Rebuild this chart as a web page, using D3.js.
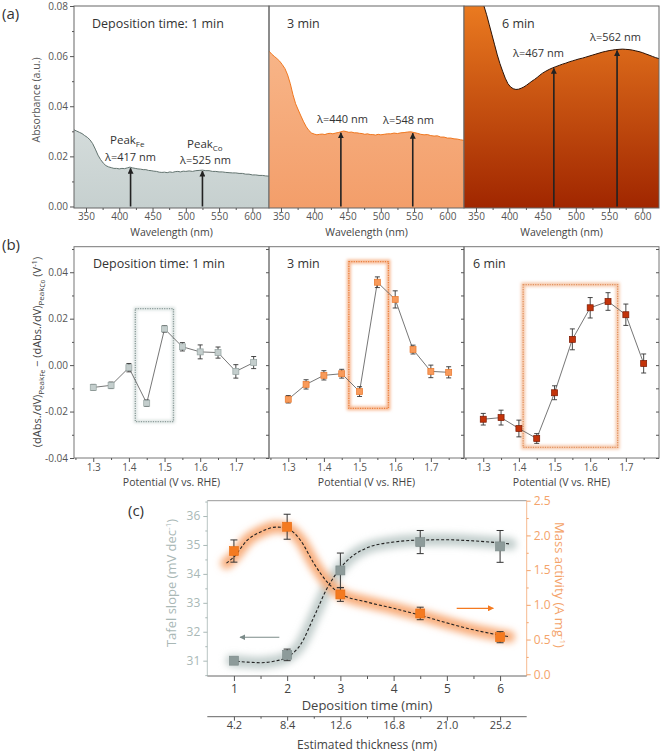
<!DOCTYPE html>
<html><head><meta charset="utf-8">
<script src="https://cdn.jsdelivr.net/npm/d3@7"></script>
<style>body{margin:0;background:#fff}text{font-family:"Open Sans",sans-serif}</style>
</head><body><svg id="c" width="660" height="754"></svg>
<script>
// ---------- DATA ----------
const spec1 = [[332,.0306],[336,.0301],[340,.0296],[344,.0291],[348,.0283],[352,.0276],[356,.0266],[360,.0251],[364,.0229],[368,.0205],[372,.0187],[376,.0173],[380,.0163],[384,.0158],[388,.0155],[392,.0152],[396,.0152],[400,.0150],[404,.0152],[408,.0151],[412,.0154],[416,.0157],[420,.0154],[424,.0152],[428,.0150],[432,.0149],[436,.0147],[440,.0147],[444,.0144],[448,.0143],[452,.0141],[456,.0140],[460,.0137],[464,.0136],[468,.0137],[472,.0135],[476,.0138],[480,.0136],[484,.0139],[488,.0140],[492,.0138],[496,.0141],[500,.0140],[505,.0142],[510,.0140],[515,.0143],[520,.0144],[525,.0145],[530,.0143],[535,.0143],[540,.0140],[545,.0140],[550,.0138],[555,.0138],[560,.0136],[565,.0135],[570,.0134],[575,.0134],[580,.0132],[585,.0132],[590,.0129],[595,.0129],[600,.0126],[605,.0126],[610,.0124],[615,.0124],[620,.0122],[625,.0121]];
const spec3 = [[332,.0620],[336,.0608],[340,.0599],[344,.0590],[348,.0580],[352,.0566],[356,.0550],[360,.0525],[364,.0490],[368,.0446],[372,.0410],[376,.0385],[380,.0361],[384,.0338],[388,.0318],[392,.0303],[396,.0293],[400,.0289],[404,.0286],[408,.0288],[412,.0289],[416,.0287],[420,.0291],[424,.0292],[428,.0290],[432,.0293],[436,.0295],[440,.0298],[444,.0301],[448,.0299],[452,.0296],[456,.0297],[460,.0294],[464,.0294],[468,.0292],[472,.0291],[476,.0288],[480,.0290],[484,.0287],[488,.0287],[492,.0285],[496,.0288],[500,.0286],[505,.0288],[510,.0290],[515,.0290],[520,.0293],[525,.0291],[530,.0294],[535,.0295],[540,.0297],[545,.0298],[550,.0295],[555,.0292],[560,.0288],[565,.0286],[570,.0287],[575,.0283],[580,.0281],[585,.0282],[590,.0277],[595,.0277],[600,.0273],[605,.0273],[610,.0270],[615,.0269],[620,.0266],[625,.0264]];
const spec6 = [[332,.0990],[340,.0950],[348,.0905],[356,.0850],[362,.0800],[366,.0765],[370,.0725],[374,.0685],[378,.0645],[382,.0605],[386,.0570],[390,.0540],[394,.0512],[398,.0490],[402,.0477],[406,.0470],[410,.0467],[414,.0468],[418,.0472],[422,.0477],[426,.0484],[430,.0492],[434,.0500],[438,.0507],[442,.0515],[446,.0524],[450,.0532],[455,.0540],[460,.0547],[465,.0553],[470,.0558],[475,.0563],[480,.0568],[485,.0572],[490,.0577],[495,.0581],[500,.0585],[505,.0589],[510,.0592],[515,.0596],[520,.0600],[525,.0604],[530,.0608],[535,.0612],[540,.0616],[545,.0619],[550,.0622],[555,.0624],[560,.0626],[565,.0627],[570,.0628],[575,.0627],[580,.0626],[585,.0624],[590,.0621],[595,.0618],[600,.0614],[605,.0609],[610,.0604],[615,.0599],[620,.0594],[625,.0590]];
const peaks1 = [417, 525];
const peaks3 = [440, 548];
const peaks6 = [467, 562];
const wlTicks = [350,400,450,500,550,600];
const absTicks = [0,0.02,0.04,0.06,0.08];

const potentials = [1.30,1.35,1.40,1.45,1.50,1.55,1.60,1.65,1.70,1.75];
const dv1 = [-0.0096,-0.0087,-0.0011,-0.0164,0.0156,0.0079,0.0057,0.0054,-0.0027,0.0011];
const dv1Err = [0.0013,0.0014,0.0018,0.0014,0.0014,0.0018,0.0030,0.0024,0.0029,0.0026];
const dv3 = [-0.0147,-0.0083,-0.0044,-0.0037,-0.0114,0.0357,0.0283,0.0067,-0.0027,-0.0031];
const dv3Err = [0.0016,0.0020,0.0020,0.0019,0.0021,0.0023,0.0037,0.0019,0.0027,0.0024];
const dv6 = [-0.0233,-0.0226,-0.0273,-0.0316,-0.0119,0.0111,0.0247,0.0274,0.0217,0.0007];
const dv6Err = [0.0025,0.0032,0.0036,0.0021,0.0030,0.0045,0.0044,0.0038,0.0046,0.0041];
const boxes = [[1.418,1.525,-0.0243,0.0243],[1.470,1.581,-0.0186,0.0446],[1.412,1.677,-0.0354,0.0347]];
const potTicks = [1.3,1.4,1.5,1.6,1.7];
const dvTicks = [-0.04,-0.02,0,0.02,0.04];

const times = [1,2,3,4.5,6];
const tafel = [31.0,31.2,34.12,35.1,34.95];
const tafelErr = [0.05,0.2,0.6,0.4,0.55];
const mass = [1.775,2.125,1.15,0.876,0.534];
const massErr = [0.16,0.18,0.1,0.09,0.08];
const tafelFit = [[0.96,31.0],[1.25,30.95],[1.5,30.93],[1.75,30.98],[2.0,31.12],[2.25,31.55],[2.5,32.5],[2.75,33.5],[3.0,34.2],[3.25,34.65],[3.5,34.9],[4.0,35.1],[4.5,35.17],[5.0,35.18],[5.5,35.14],[6.0,35.07],[6.2,35.03]];
const massFit = [[0.86,1.6],[1.0,1.69],[1.25,1.93],[1.5,2.05],[1.8,2.12],[2.0,2.1],[2.25,1.93],[2.5,1.6],[2.75,1.33],[3.0,1.16],[3.5,1.04],[4.0,0.95],[4.5,0.85],[5.0,0.74],[5.5,0.64],[6.17,0.54]];
const timeTicks = [1,2,3,4,5,6];
const tafelTicks = [31,32,33,34,35,36];
const massTicks = [0,0.5,1.0,1.5,2.0,2.5];
const thickTicks = [4.2,8.4,12.6,16.8,21.0,25.2];

// ---------- SETUP ----------
const svg = d3.select("#c");
const defs = svg.append("defs");
const blur = (id, s) => defs.append("filter").attr("id", id).attr("x","-50%").attr("y","-50%").attr("width","200%").attr("height","200%")
  .append("feGaussianBlur").attr("stdDeviation", s);
blur("glow", 3.5); blur("glowS", 1.5);
const arrowM = (id, col) => defs.append("marker").attr("id", id).attr("viewBox","0 0 10 10").attr("refX",9).attr("refY",5)
  .attr("markerWidth",6).attr("markerHeight",6).attr("orient","auto-start-reverse").attr("markerUnits","userSpaceOnUse")
  .append("path").attr("d","M0,0L10,5L0,10z").attr("fill",col);
arrowM("ah", "#222"); arrowM("ahG", "#7b8b89"); arrowM("ahO", "#f47a20");

const subX = [[74,269],[269,464],[464,659]];
const tickCol = "#555", labCol = "#555";

function styleAxis(g){ g.select(".domain").remove(); g.selectAll("line").attr("stroke", tickCol);
  g.selectAll("text").attr("fill", labCol).attr("font-size", 10); }

// ---------- PANEL A ----------
const aTop = 6, aBot = 208;
const yA = d3.scaleLinear().domain([-0.0006,0.08]).range([aBot,aTop]);
const specs = [spec1, spec3, spec6];
const peaks = [peaks1, peaks3, peaks6];
const gradCols = [["#e9eded","#c6d0cf"],["#f9bb90","#f39e6a"],["#ea7a20","#a02600"]];
const lineCols = ["#62736f","#f07820","#2a1206"];
specs.forEach((sp, i) => {
  const [x0,x1] = subX[i];
  const x = d3.scaleLinear().domain([332,625]).range([x0,x1]);
  const cid = "clipA"+i;
  defs.append("clipPath").attr("id",cid).append("rect").attr("x",x0).attr("y",aTop).attr("width",x1-x0).attr("height",aBot-aTop);
  const gr = defs.append("linearGradient").attr("id","gA"+i).attr("gradientUnits","userSpaceOnUse").attr("x1",0).attr("x2",0).attr("y1",aTop).attr("y2",aBot);
  gr.append("stop").attr("offset",0).attr("stop-color",gradCols[i][0]);
  gr.append("stop").attr("offset",1).attr("stop-color",gradCols[i][1]);
  const g = svg.append("g").attr("clip-path",`url(#${cid})`);
  g.append("path").datum(sp).attr("fill",`url(#gA${i})`)
    .attr("d", d3.area().x(d=>x(d[0])).y0(aBot).y1(d=>yA(d[1])));
  g.append("path").datum(sp).attr("fill","none").attr("stroke",lineCols[i]).attr("stroke-width",1)
    .attr("d", d3.line().x(d=>x(d[0])).y(d=>yA(d[1])));
  const interp = w => { for (let k=1;k<sp.length;k++){ if (sp[k][0]>=w){ const a=sp[k-1],b=sp[k]; return a[1]+(b[1]-a[1])*(w-a[0])/(b[0]-a[0]); } } return sp[sp.length-1][1]; };
  peaks[i].forEach(p => {
    svg.append("line").attr("x1",x(p)).attr("x2",x(p)).attr("y1",yA(0)).attr("y2",yA(interp(p))+1)
      .attr("stroke","#222").attr("stroke-width",1.6).attr("marker-end","url(#ah)");
  });
  svg.append("rect").attr("x",x0).attr("y",aTop).attr("width",x1-x0).attr("height",aBot-aTop).attr("fill","none").attr("stroke","#666").attr("stroke-width",1);
  const ax = svg.append("g").attr("transform",`translate(0,${aBot})`).call(d3.axisBottom(x).tickValues(wlTicks).tickFormat(d=>d).tickSize(4).tickPadding(1));
  styleAxis(ax);
  const axm = svg.append("g").attr("transform",`translate(0,${aBot})`).call(d3.axisBottom(x).tickValues([375,425,475,525,575]).tickSize(2).tickFormat(""));
  styleAxis(axm);
  svg.append("text").attr("x",(x0+x1)/2).attr("y",236).attr("text-anchor","middle").attr("font-size",10.5).attr("fill","#444").text("Wavelength (nm)");
});
{
  const ay = svg.append("g").attr("transform","translate(74,0)").call(d3.axisLeft(yA).tickValues(absTicks).tickFormat(d=>d.toFixed(2)).tickSize(4).tickPadding(2));
  styleAxis(ay);
  const aym = svg.append("g").attr("transform","translate(74,0)").call(d3.axisLeft(yA).tickValues([0.01,0.03,0.05,0.07]).tickFormat("").tickSize(2));
  styleAxis(aym);
  svg.append("text").attr("transform","translate(40,100) rotate(-90)").attr("text-anchor","middle").attr("font-size",10.5).attr("fill","#555").text("Absorbance (a.u.)");
  svg.append("text").attr("x",2).attr("y",19).attr("font-size",15).attr("fill","#333").text("(a)");
  const T = (x,y,s,fs) => svg.append("text").attr("x",x).attr("y",y).attr("font-size",fs||11).attr("fill","#333").text(s);
  T(92,28,"Deposition time: 1 min",12.5);
  T(287,28,"3 min",12.5);
  T(502,28,"6 min",12.5);
  const pk = (x,y,sub) => { const t = svg.append("text").attr("x",x).attr("y",y).attr("font-size",11.5).attr("fill","#333");
    t.append("tspan").text("Peak"); t.append("tspan").attr("dy",3).attr("font-size",8).text(sub); };
  pk(110,144,"Fe"); pk(187,148,"Co");
  T(105,161,"λ=417 nm"); T(180,164,"λ=525 nm");
  T(317,123,"λ=440 nm"); T(383,124,"λ=548 nm");
  T(513,57,"λ=467 nm"); T(590,41,"λ=562 nm");
}

// ---------- PANEL B ----------
const bTop = 246.7, bBot = 458;
const yB = d3.scaleLinear().domain([-0.04,0.051]).range([bBot,bTop]);
const dvs = [[dv1,dv1Err],[dv3,dv3Err],[dv6,dv6Err]];
const mFill = ["#c4cecd","#f89a5a","#c3330a"], mStroke = ["#95a3a1","#e8782e","#7a1800"];
const boxStroke = ["#8d9d9b","#e9803e","#e29462"], boxGlow = ["#d6dfdd","#f7b68e","#f5c4a4"];
const titlesB = ["Deposition time: 1 min","3 min","6 min"], titleBX = [93,287,473];
dvs.forEach(([vals,errs], i) => {
  const [x0,x1] = subX[i];
  const x = d3.scaleLinear().domain([1.246,1.793]).range([x0,x1]);
  svg.append("rect").attr("x",x0).attr("y",bTop).attr("width",x1-x0).attr("height",bBot-bTop).attr("fill","none").attr("stroke","#777").attr("stroke-width",1);
  const bx = boxes[i];
  svg.append("rect").attr("x",x(bx[0])).attr("y",yB(bx[3])).attr("width",x(bx[1])-x(bx[0])).attr("height",yB(bx[2])-yB(bx[3]))
    .attr("fill","none").attr("stroke",boxGlow[i]).attr("stroke-width",i===0?3:4).attr("filter","url(#glowS)");
  svg.append("rect").attr("x",x(bx[0])).attr("y",yB(bx[3])).attr("width",x(bx[1])-x(bx[0])).attr("height",yB(bx[2])-yB(bx[3]))
    .attr("fill","none").attr("stroke",boxStroke[i]).attr("stroke-width",1.3).attr("stroke-dasharray","1.2,1.2");
  const pts = potentials.map((p,k)=>[p,vals[k],errs[k]]);
  svg.append("path").datum(pts).attr("fill","none").attr("stroke","#666").attr("stroke-width",0.9)
    .attr("d", d3.line().x(d=>x(d[0])).y(d=>yB(d[1])));
  const eb = svg.append("g").attr("stroke","#333").attr("stroke-width",0.9);
  pts.forEach(d => {
    const cx = x(d[0]);
    eb.append("line").attr("x1",cx).attr("x2",cx).attr("y1",yB(d[1]-d[2])).attr("y2",yB(d[1]+d[2]));
    eb.append("line").attr("x1",cx-2.5).attr("x2",cx+2.5).attr("y1",yB(d[1]-d[2])).attr("y2",yB(d[1]-d[2]));
    eb.append("line").attr("x1",cx-2.5).attr("x2",cx+2.5).attr("y1",yB(d[1]+d[2])).attr("y2",yB(d[1]+d[2]));
  });
  svg.append("g").selectAll("rect").data(pts).join("rect")
    .attr("x",d=>x(d[0])-3).attr("y",d=>yB(d[1])-3).attr("width",6).attr("height",6)
    .attr("fill",mFill[i]).attr("stroke",mStroke[i]).attr("stroke-width",0.7);
  const ax = svg.append("g").attr("transform",`translate(0,${bBot})`).call(d3.axisBottom(x).tickValues(potTicks).tickFormat(d=>d.toFixed(1)).tickSize(4).tickPadding(2));
  styleAxis(ax);
  const axm = svg.append("g").attr("transform",`translate(0,${bBot})`).call(d3.axisBottom(x).tickValues([1.25,1.35,1.45,1.55,1.65,1.75]).tickFormat("").tickSize(2));
  styleAxis(axm);
  svg.append("text").attr("x",(x0+x1)/2).attr("y",486).attr("text-anchor","middle").attr("font-size",10.5).attr("fill","#444").text("Potential (V vs. RHE)");
  const ay = svg.append("g").attr("transform",`translate(${x0},0)`).call(d3.axisLeft(yB).tickValues(dvTicks).tickFormat(i===0?(d=>d.toFixed(2)):"").tickSize(i===0?4:3).tickPadding(2));
  styleAxis(ay);
  const aym = svg.append("g").attr("transform",`translate(${x0},0)`).call(d3.axisLeft(yB).tickValues([-0.03,-0.01,0.01,0.03,0.05]).tickFormat("").tickSize(i===0?2:3));
  styleAxis(aym);
  svg.append("text").attr("x",titleBX[i]).attr("y",268).attr("font-size",12.5).attr("fill","#333").text(titlesB[i]);
});
{
  const ayr = svg.append("g").attr("transform",`translate(659,0)`).call(d3.axisLeft(yB).tickValues([-0.04,-0.03,-0.02,-0.01,0,0.01,0.02,0.03,0.04,0.05]).tickFormat("").tickSize(3));
  styleAxis(ayr);
  svg.append("text").attr("x",2).attr("y",250).attr("font-size",15).attr("fill","#333").text("(b)");
  const t = svg.append("text").attr("transform","translate(41,352) rotate(-90)").attr("text-anchor","middle").attr("font-size",11).attr("fill","#444");
  t.append("tspan").text("(dAbs./dV)");
  t.append("tspan").attr("dy",2.5).attr("font-size",8).text("Peak");
  t.append("tspan").attr("dy",1.5).attr("font-size",6.5).text("Fe");
  t.append("tspan").attr("dy",-4).text(" − (dAbs./dV)");
  t.append("tspan").attr("dy",2.5).attr("font-size",8).text("Peak");
  t.append("tspan").attr("dy",1.5).attr("font-size",6.5).text("Co");
  t.append("tspan").attr("dy",-4).text(" (V");
  t.append("tspan").attr("dy",-4).attr("font-size",7.5).text("-1");
  t.append("tspan").attr("dy",4).text(")");
}

// ---------- PANEL C ----------
const cL = 207.3, cR = 526.7, cT = 500.7, cB = 676;
const xC = d3.scaleLinear().domain([0.5,6.5]).range([cL,cR]);
const yL = d3.scaleLinear().domain([30.47,36.53]).range([cB,cT]);
const yR = d3.scaleLinear().domain([-0.025,2.5]).range([cB,cT]);
const xT = d3.scaleLinear().domain([0.5*4.2,6.5*4.2]).range([cL,cR]);
const gCol = "#a9b8b6", oCol = "#f4a36a";
svg.append("line").attr("x1",cL).attr("x2",cR).attr("y1",cT).attr("y2",cT).attr("stroke","#999");
svg.append("line").attr("x1",cL).attr("x2",cL).attr("y1",cT).attr("y2",cB).attr("stroke","#b9c5c3");
svg.append("line").attr("x1",cR).attr("x2",cR).attr("y1",cT).attr("y2",cB).attr("stroke","#f6bb90");
svg.append("line").attr("x1",cL).attr("x2",cR).attr("y1",cB).attr("y2",cB).attr("stroke","#666");
{
  const ax = svg.append("g").attr("transform",`translate(0,${cB})`).call(d3.axisBottom(xC).tickValues(timeTicks).tickFormat(d=>d).tickSize(5).tickPadding(3));
  styleAxis(ax); ax.selectAll("text").attr("font-size",12).attr("fill","#444");
  const axm = svg.append("g").attr("transform",`translate(0,${cB})`).call(d3.axisBottom(xC).tickValues([1.5,2.5,3.5,4.5,5.5]).tickFormat("").tickSize(3));
  styleAxis(axm);
  svg.append("text").attr("x",367).attr("y",710).attr("text-anchor","middle").attr("font-size",13).attr("fill","#444").text("Deposition time (min)");
  svg.append("line").attr("x1",cL).attr("x2",cR).attr("y1",716.7).attr("y2",716.7).attr("stroke","#666");
  const at = svg.append("g").attr("transform",`translate(0,716.7)`).call(d3.axisBottom(xT).tickValues(thickTicks).tickFormat(d=>d.toFixed(1)).tickSize(4).tickPadding(1));
  styleAxis(at); at.selectAll("text").attr("font-size",11).attr("fill","#444");
  const atm = svg.append("g").attr("transform",`translate(0,716.7)`).call(d3.axisBottom(xT).tickValues([6.3,10.5,14.7,18.9,23.1]).tickFormat("").tickSize(2));
  styleAxis(atm);
  svg.append("text").attr("x",367).attr("y",749).attr("text-anchor","middle").attr("font-size",12).attr("fill","#444").text("Estimated thickness (nm)");

  const al = svg.append("g").attr("transform",`translate(${cL},0)`).call(d3.axisLeft(yL).tickValues(tafelTicks).tickFormat(d=>d).tickSize(4).tickPadding(3));
  styleAxis(al); al.selectAll("line").attr("stroke",gCol); al.selectAll("text").attr("font-size",12).attr("fill",gCol);
  const alm = svg.append("g").attr("transform",`translate(${cL},0)`).call(d3.axisLeft(yL).tickValues([30.5,31.5,32.5,33.5,34.5,35.5,36.5]).tickFormat("").tickSize(2));
  styleAxis(alm); alm.selectAll("line").attr("stroke",gCol);
  const ar = svg.append("g").attr("transform",`translate(${cR},0)`).call(d3.axisRight(yR).tickValues(massTicks).tickFormat(d=>d.toFixed(1)).tickSize(4).tickPadding(3));
  styleAxis(ar); ar.selectAll("line").attr("stroke",oCol); ar.selectAll("text").attr("font-size",12).attr("fill",oCol);
  const arm = svg.append("g").attr("transform",`translate(${cR},0)`).call(d3.axisRight(yR).tickValues([0.25,0.75,1.25,1.75,2.25]).tickFormat("").tickSize(2));
  styleAxis(arm); arm.selectAll("line").attr("stroke",oCol);

  const tl = svg.append("text").attr("transform","translate(176,583) rotate(-90)").attr("text-anchor","middle").attr("font-size",13).attr("fill",gCol);
  tl.append("tspan").text("Tafel slope (mV dec"); tl.append("tspan").attr("dy",-5).attr("font-size",8).text("-1"); tl.append("tspan").attr("dy",5).text(")");
  const tr = svg.append("text").attr("transform","translate(555,585) rotate(90)").attr("text-anchor","middle").attr("font-size",13).attr("fill",oCol);
  tr.append("tspan").text("Mass activity (A mg"); tr.append("tspan").attr("dy",-5).attr("font-size",8).text("-1"); tr.append("tspan").attr("dy",5).text(")");
  svg.append("text").attr("x",128).attr("y",516).attr("font-size",15).attr("fill","#333").text("(c)");

  // glows
  svg.append("path").datum(tafelFit).attr("fill","none").attr("stroke","#c3cfcd").attr("stroke-width",12).attr("stroke-linecap","round")
    .attr("filter","url(#glow)").attr("d", d3.line().curve(d3.curveMonotoneX).x(d=>xC(d[0])).y(d=>yL(d[1])));
  svg.append("path").datum(massFit).attr("fill","none").attr("stroke","#f8ad7c").attr("stroke-width",12).attr("stroke-linecap","round")
    .attr("filter","url(#glow)").attr("d", d3.line().curve(d3.curveMonotoneX).x(d=>xC(d[0])).y(d=>yR(d[1])));
  svg.append("path").datum(tafelFit).attr("fill","none").attr("stroke","#222").attr("stroke-width",1.1).attr("stroke-dasharray","3,2")
    .attr("d", d3.line().curve(d3.curveMonotoneX).x(d=>xC(d[0])).y(d=>yL(d[1])));
  svg.append("path").datum(massFit).attr("fill","none").attr("stroke","#222").attr("stroke-width",1.1).attr("stroke-dasharray","3,2")
    .attr("d", d3.line().curve(d3.curveMonotoneX).x(d=>xC(d[0])).y(d=>yR(d[1])));

  const eb = svg.append("g").attr("stroke","#333").attr("stroke-width",1);
  const errBar = (cx, lo, hi) => {
    eb.append("line").attr("x1",cx).attr("x2",cx).attr("y1",lo).attr("y2",hi);
    eb.append("line").attr("x1",cx-3.5).attr("x2",cx+3.5).attr("y1",lo).attr("y2",lo);
    eb.append("line").attr("x1",cx-3.5).attr("x2",cx+3.5).attr("y1",hi).attr("y2",hi);
  };
  times.forEach((t,k)=>{ errBar(xC(t), yL(tafel[k]-tafelErr[k]), yL(tafel[k]+tafelErr[k])); errBar(xC(t), yR(mass[k]-massErr[k]), yR(mass[k]+massErr[k])); });
  svg.append("g").selectAll("rect").data(times).join("rect")
    .attr("x",(d)=>xC(d)-4.5).attr("y",(d,k)=>yL(tafel[k])-4.5).attr("width",9).attr("height",9)
    .attr("fill","#8d9b9a").attr("stroke","#7a8887").attr("stroke-width",0.6);
  svg.append("g").selectAll("rect").data(times).join("rect")
    .attr("x",(d)=>xC(d)-4.5).attr("y",(d,k)=>yR(mass[k])-4.5).attr("width",9).attr("height",9)
    .attr("fill","#f47a20").attr("stroke","#e86c10").attr("stroke-width",0.6);

  svg.append("line").attr("x1",xC(1.853)).attr("x2",xC(1.114)).attr("y1",yL(31.81)).attr("y2",yL(31.81))
    .attr("stroke","#7b8b89").attr("stroke-width",1.2).attr("marker-end","url(#ahG)");
  svg.append("line").attr("x1",xC(5.185)).attr("x2",xC(5.873)).attr("y1",yR(0.95)).attr("y2",yR(0.95))
    .attr("stroke","#f47a20").attr("stroke-width",1.2).attr("marker-end","url(#ahO)");
}
</script></body></html>
